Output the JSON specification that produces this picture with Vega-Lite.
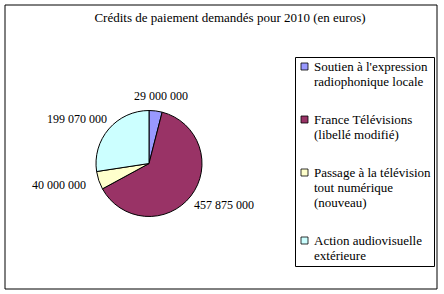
{
  "$schema": "https://vega.github.io/schema/vega-lite/v6.json",
  "width": 432,
  "height": 284,
  "autosize": "none",
  "padding": {"left": 5, "top": 5, "right": 7, "bottom": 5},
  "background": "white",
  "config": {
    "view": {"stroke": null},
    "font": "Liberation Serif, Times New Roman, serif",
    "locale": {"number": {"decimal": ",", "thousands": " ", "grouping": [3], "currency": ["", " €"]}}
  },
  "title": {
    "text": "Crédits de paiement demandés pour 2010 (en euros)",
    "fontSize": 13,
    "fontWeight": "normal",
    "font": "Liberation Serif, Times New Roman, serif",
    "color": "black",
    "anchor": "middle",
    "frame": "group",
    "baseline": "alphabetic",
    "offset": -30,
    "dx": 9
  },
  "data": {
    "values": [
      {"rang": 1, "categorie": "Soutien à l'expression radiophonique locale", "montant": 29000000},
      {"rang": 2, "categorie": "France Télévisions (libellé modifié)", "montant": 457875000},
      {"rang": 3, "categorie": "Passage à la télévision tout numérique (nouveau)", "montant": 40000000},
      {"rang": 4, "categorie": "Action audiovisuelle extérieure", "montant": 199070000}
    ]
  },
  "layer": [
    {
      "data": {"values": [{"cadre": "graphique"}]},
      "mark": {"type": "rect", "x": 0, "y": 0, "x2": {"expr": "width"}, "y2": {"expr": "height"}, "fill": null, "stroke": "black", "strokeWidth": 1},
      "encoding": {}
    },
    {
      "mark": {"type": "arc", "x": 144, "y": 158.5, "outerRadius": 53, "stroke": "black", "strokeWidth": 1},
      "encoding": {
        "theta": {"field": "montant", "type": "quantitative", "stack": true},
        "order": {"field": "rang", "type": "quantitative"},
        "color": {
          "field": "categorie",
          "type": "nominal",
          "sort": null,
          "scale": {
            "domain": [
              "Soutien à l'expression radiophonique locale",
              "France Télévisions (libellé modifié)",
              "Passage à la télévision tout numérique (nouveau)",
              "Action audiovisuelle extérieure"
            ],
            "range": ["#9999FF", "#993366", "#FFFFCC", "#CCFFFF"]
          },
          "legend": {
            "orient": "none",
            "legendX": 290,
            "legendY": 52,
            "title": null,
            "labelExpr": "datum.label == 'Action audiovisuelle extérieure' ? ['Action audiovisuelle', 'extérieure'] : datum.label == 'France Télévisions (libellé modifié)' ? ['France Télévisions', '(libellé modifié)'] : datum.label == 'Passage à la télévision tout numérique (nouveau)' ? ['Passage à la télévision', 'tout numérique', '(nouveau)'] : [\"Soutien à l'expression\", 'radiophonique locale']",
            "symbolType": "square",
            "symbolSize": 49,
            "symbolStrokeColor": "black",
            "symbolStrokeWidth": 0.8,
            "labelFont": "Liberation Serif, Times New Roman, serif",
            "labelFontSize": 13,
            "labelColor": "black",
            "labelLimit": 300,
            "labelLineHeight": 15,
            "labelOffset": 3,
            "rowPadding": 24,
            "padding": 3,
            "strokeColor": "black",
            "fillColor": "white"
          }
        }
      }
    },
    {
      "mark": {
        "type": "text",
        "x": 144,
        "y": 158.5,
        "radius": 68,
        "font": "Liberation Serif, Times New Roman, serif",
        "fontSize": 12,
        "baseline": "middle",
        "align": "center",
        "dx": {"expr": "27 * sin(scale('theta', 0.5 * datum.montant_start + 0.5 * datum.montant_end))"}
      },
      "encoding": {
        "theta": {"field": "montant", "type": "quantitative", "stack": true},
        "order": {"field": "rang", "type": "quantitative"},
        "text": {"field": "montant", "type": "quantitative", "format": ",.0f"},
        "color": {"value": "black"}
      }
    }
  ]
}
